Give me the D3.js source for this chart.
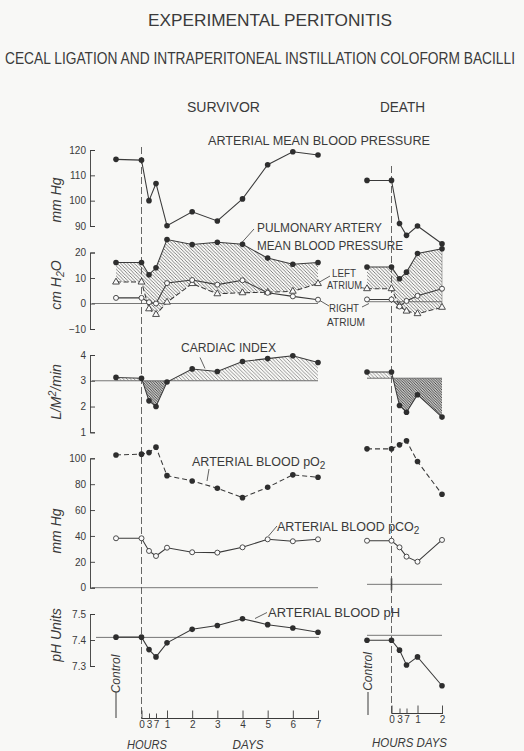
<!DOCTYPE html>
<html><head><meta charset="utf-8">
<script src="https://cdn.jsdelivr.net/npm/d3@7"></script>
<style>
html,body{margin:0;padding:0;background:#f8f8f6;}
svg{display:block;}
text{font-family:"Liberation Sans",Arial,sans-serif;fill:#3a3a3a;}
</style></head><body>
<svg id="c" width="524" height="751"></svg>
<script>
// ---------- DATA ----------
// times in hours; -24 = control
const survTimes = [-24, 0, 3, 7, 24, 48, 72, 96, 120, 144, 168];
const deathTimes = [-24, 0, 3, 7, 24, 48];
const survTickValues = [0, 3, 7, 24, 48, 72, 96, 120, 144, 168];
const survTickLabels = ["0", "3", "7", "1", "2", "3", "4", "5", "6", "7"];
const deathTickValues = [0, 3, 7, 24, 48];
const deathTickLabels = ["0", "3", "7", "1", "2"];

const bpSurv = [116.3, 116, 100, 106.8, 90.1, 95.6, 92, 100.7, 114.2, 119.3, 118];
const bpDeath = [108, 108, 91, 86.3, 90, 83];
const paSurv = [16.1, 16.1, 11.3, 14, 25.1, 23.1, 24, 23.2, 17.8, 15.4, 16.1];
const paDeath = [14.3, 14.3, 9.7, 12.3, 19.6, 21.5];
const laSurv = [8.4, 8.4, -2.1, -4.3, 0.5, 7.8, 3.8, 4.2, 4.4, 4.8, 7.8];
const laDeath = [5.8, 5.8, -1, -3, -4, -1.5];
const raSurv = [2.2, 2.2, 0.5, 0, 8, 9.2, 7.4, 9.1, 4.2, 2.8, 1.5];
const raDeath = [1.6, 1.6, -1.2, 1, 3, 5.8];
const ciSurv = [3.13, 3.1, 2.22, 2.0, 2.95, 3.46, 3.36, 3.75, 3.86, 3.97, 3.71];
const ciDeath = [3.34, 3.34, 2.04, 1.78, 2.46, 1.59];
const po2Surv = [102.6, 103.2, 104.4, 108.6, 86.6, 82.5, 76.9, 69.6, 77.6, 87.2, 85.4];
const po2Death = [107.3, 107.3, 110.4, 113.5, 97.5, 72.2];
const pco2Surv = [38.2, 38.2, 28.4, 24.5, 30.9, 27.4, 27.1, 31.2, 37.4, 35.9, 37.4];
const pco2Death = [36.3, 36.3, 31.2, 24.0, 20.1, 36.9];
const phSurv = [7.411, 7.411, 7.363, 7.335, 7.389, 7.441, 7.456, 7.482, 7.459, 7.446, 7.430];
const phDeath = [7.399, 7.399, 7.361, 7.304, 7.335, 7.224];

const bpTicks = [90, 100, 110, 120];
const cmTicks = [-10, 0, 10, 20];
const ciTicks = [1, 2, 3, 4];
const gasTicks = [0, 20, 40, 60, 80, 100];
const phTicks = [7.3, 7.4, 7.5];

// reference baselines (survivor, death)
const cmBase = [0, 0.7];
const ciBase = [3, 3.1];
const gasBase = [0, 2.6];
const phBase = [7.41, 7.418];

// ---------- SETUP ----------
const svg = d3.select("#c");
const INK = "#3a3a3a";
const defs = svg.append("defs");
function hatch(id, step, color, w) {
  const p = defs.append("pattern").attr("id", id).attr("patternUnits", "userSpaceOnUse")
    .attr("width", step).attr("height", step);
  p.append("path").attr("d", `M0,0L${step},${step}M${-step/2},${step/2}L${step/2},${step*1.5}M${step/2},${-step/2}L${step*1.5},${step/2}`)
    .attr("stroke", color).attr("stroke-width", w);
}
hatch("h1", 3.4, "#5a5a5a", 0.75);
hatch("h2", 3.6, "#6a6a6a", 0.7);
hatch("h3", 2.6, "#333", 0.9);

const xS = d3.scaleLinear().domain([-24, 0, 3, 7, 24, 168]).range([116, 141.5, 149, 156, 167, 318]);
const xD = d3.scaleLinear().domain([-24, 0, 3, 7, 24, 48]).range([367, 391.5, 399.5, 406.5, 417.5, 442]);

const yBP = d3.scaleLinear().domain([90, 120]).range([226, 150]);
const yCM = d3.scaleLinear().domain([-10, 20]).range([329, 252.5]);
const yCI = d3.scaleLinear().domain([1, 4]).range([432.3, 355]);
const yGas = d3.scaleLinear().domain([0, 100]).range([587.7, 458.3]);
const yPH = d3.scaleLinear().domain([7.3, 7.5]).range([666, 614]);

// ---------- TITLES ----------
function txt(s, x, y, size, opts = {}) {
  const t = svg.append("text").attr("x", x).attr("y", y).attr("font-size", size).text(s);
  if (opts.len) t.attr("textLength", opts.len).attr("lengthAdjust", "spacingAndGlyphs");
  if (opts.anchor) t.attr("text-anchor", opts.anchor);
  if (opts.italic) t.attr("font-style", "italic");
  return t;
}
txt("EXPERIMENTAL PERITONITIS", 148, 26, 17, {len: 244});
svg.append("text").attr("transform", "translate(5,63.5) scale(1,1.22)").attr("font-size", 12.8)
  .attr("textLength", 510).attr("lengthAdjust", "spacingAndGlyphs")
  .text("CECAL LIGATION AND INTRAPERITONEAL INSTILLATION COLOFORM BACILLI");
txt("SURVIVOR", 187, 111.5, 14, {len: 73});
txt("DEATH", 380, 111.5, 14, {len: 45});
txt("ARTERIAL MEAN BLOOD PRESSURE", 208, 145, 12.5, {len: 222});
txt("PULMONARY ARTERY", 257, 232, 12.5, {len: 125});
txt("MEAN BLOOD PRESSURE", 257, 249.5, 12.5, {len: 146});
txt("LEFT", 332, 277, 11, {len: 24});
txt("ATRIUM", 327, 289, 11, {len: 35});
txt("RIGHT", 329, 312, 11, {len: 30});
txt("ATRIUM", 327, 325.5, 11, {len: 38});
txt("CARDIAC INDEX", 181, 351.5, 12.5, {len: 95});
function subText(parts, x, y, size) {
  const t = svg.append("text").attr("x", x).attr("y", y).attr("font-size", size);
  t.append("tspan").text(parts[0]);
  t.append("tspan").attr("font-size", size * 0.8).attr("dy", 3).text(parts[1]);
  return t;
}
subText(["ARTERIAL BLOOD pO", "2"], 192, 466, 12.5);
subText(["ARTERIAL BLOOD pCO", "2"], 277, 531, 12.5);
txt("ARTERIAL BLOOD pH", 268, 616.5, 12.5, {len: 132});

// leaders
const leaders = [
  [241, 243.5, 254, 229], [330, 276, 317, 283.5], [361, 287.5, 368, 289],
  [329, 306, 319, 300], [362, 307, 369, 303.5], [200, 357.5, 205, 368.5],
  [209, 469, 207, 481], [277, 526, 268.5, 536], [267, 612.5, 255, 618.5]
];
svg.append("g").selectAll("line").data(leaders).join("line")
  .attr("x1", d => d[0]).attr("y1", d => d[1]).attr("x2", d => d[2]).attr("y2", d => d[3])
  .attr("stroke", INK).attr("stroke-width", 0.8);

// y axis titles
function rotTitle(parts, x, y, size) {
  const t = svg.append("text").attr("transform", `translate(${x},${y}) rotate(-90)`)
    .attr("text-anchor", "middle").attr("font-size", size).attr("font-style", "italic");
  parts.forEach(p => {
    const s = t.append("tspan").text(p.t);
    if (p.sub) s.attr("font-size", size * 0.75).attr("dy", 3);
    if (p.sup) s.attr("font-size", size * 0.75).attr("dy", -5);
    if (p.back) s.attr("dy", p.back);
  });
  return t;
}
rotTitle([{t: "mm Hg"}], 61, 200, 14);
rotTitle([{t: "cm H"}, {t: "2", sub: true}, {t: "O", back: -3}], 61, 285, 14);
rotTitle([{t: "L/M"}, {t: "2", sup: true}, {t: "/min", back: 5}], 61, 392, 14);
rotTitle([{t: "mm Hg"}], 61, 531, 14);
rotTitle([{t: "pH Units"}], 61, 635, 14);

// ---------- Y AXES ----------
function yAxis(scale, ticks, fmt) {
  const g = svg.append("g").attr("transform", "translate(90,0)")
    .call(d3.axisLeft(scale).tickValues(ticks).tickSize(-5).tickPadding(4).tickFormat(fmt || d3.format("d")));
  g.selectAll("path,line").attr("stroke", INK).attr("stroke-width", 0.9);
  g.selectAll("text").attr("font-size", 10).attr("fill", INK).attr("font-family", "Liberation Sans, Arial, sans-serif");
}
yAxis(yBP, bpTicks);
yAxis(yCM, cmTicks);
yAxis(yCI, ciTicks);
yAxis(yGas, gasTicks);
yAxis(yPH, phTicks, d3.format(".1f"));

// ---------- REFERENCE LINES ----------
function hline(x1, x2, y) {
  svg.append("line").attr("x1", x1).attr("x2", x2).attr("y1", y).attr("y2", y)
    .attr("stroke", "#555").attr("stroke-width", 0.8);
}
hline(92, xS(168), yCM(cmBase[0]));
hline(xD(-24), xD(48), yCM(cmBase[1]));
hline(92, xS(168), yCI(ciBase[0]));
hline(xD(-24), xD(48), yCI(ciBase[1]));
hline(92, xS(168), yGas(gasBase[0]));
hline(xD(-24), xD(48), yGas(gasBase[1]));
hline(96, xS(168) + 1, yPH(phBase[0]));
hline(xD(-24), xD(48), yPH(phBase[1]));
svg.append("line").attr("x1", xD(0)).attr("x2", xD(0)).attr("y1", yGas(gasBase[1]) - 6).attr("y2", yGas(gasBase[1]) + 6)
  .attr("stroke", "#444").attr("stroke-width", 1.6);

// ---------- HATCHED AREAS ----------
function bandArea(times, hi, lo, x, y, fill) {
  const a = d3.area().x((d, i) => x(times[i])).y0(d => y(d[1])).y1(d => y(d[0]));
  svg.append("path").datum(d3.zip(hi, lo)).attr("d", a).attr("fill", fill).attr("stroke", "none");
}
bandArea(survTimes, paSurv, laSurv, xS, yCM, "url(#h1)");
bandArea(deathTimes, paDeath, laDeath, xD, yCM, "url(#h1)");

function ciArea(times, vals, base, x, y, id) {
  const by = y(base);
  defs.append("clipPath").attr("id", id + "a").append("rect").attr("x", 0).attr("y", 0).attr("width", 524).attr("height", by);
  defs.append("clipPath").attr("id", id + "b").append("rect").attr("x", 0).attr("y", by).attr("width", 524).attr("height", 751 - by);
  const a = d3.area().x((d, i) => x(times[i])).y0(by).y1(d => y(d));
  svg.append("path").datum(vals).attr("d", a).attr("fill", "url(#h2)").attr("clip-path", `url(#${id}a)`);
  svg.append("path").datum(vals).attr("d", a).attr("fill", "url(#h3)").attr("clip-path", `url(#${id}b)`);
}
ciArea(survTimes, ciSurv, ciBase[0], xS, yCI, "cis");
ciArea(deathTimes, ciDeath, ciBase[1], xD, yCI, "cid");
svg.append("line").attr("x1", xD(48)).attr("x2", xD(48)).attr("y1", yCM(paDeath[5])).attr("y2", yCM(laDeath[5]))
  .attr("stroke", "#777").attr("stroke-width", 0.6);

// ---------- DASHED VERTICALS ----------
svg.append("line").attr("x1", xS(0)).attr("x2", xS(0)).attr("y1", 147).attr("y2", 718.5)
  .attr("stroke", "#555").attr("stroke-width", 0.9).attr("stroke-dasharray", "7,3");
svg.append("line").attr("x1", xD(0)).attr("x2", xD(0)).attr("y1", 166).attr("y2", 713.5)
  .attr("stroke", "#555").attr("stroke-width", 0.9).attr("stroke-dasharray", "7,3");

// ---------- SERIES ----------
function series(times, vals, x, y, marker, dash) {
  const line = d3.line().x((d, i) => x(times[i])).y(d => y(d));
  svg.append("path").datum(vals).attr("d", line).attr("fill", "none").attr("stroke", INK)
    .attr("stroke-width", 1.05).attr("stroke-dasharray", dash || null);
  const g = svg.append("g");
  const pts = vals.map((v, i) => [x(times[i]), y(v)]);
  if (marker === "dot") {
    g.selectAll("circle").data(pts).join("circle").attr("cx", d => d[0]).attr("cy", d => d[1])
      .attr("r", 2.8).attr("fill", "#2e2e2e");
  } else if (marker === "circle") {
    g.selectAll("circle").data(pts).join("circle").attr("cx", d => d[0]).attr("cy", d => d[1])
      .attr("r", 2.5).attr("fill", "#fbfbfb").attr("stroke", INK).attr("stroke-width", 0.9);
  } else if (marker === "tri") {
    g.selectAll("path").data(pts).join("path").attr("transform", d => `translate(${d[0]},${d[1]})`)
      .attr("d", d3.symbol(d3.symbolTriangle, 20)).attr("fill", "#fbfbfb").attr("stroke", INK).attr("stroke-width", 0.9);
  }
}
series(survTimes, bpSurv, xS, yBP, "dot");
series(deathTimes, bpDeath, xD, yBP, "dot");
series(survTimes, paSurv, xS, yCM, "dot");
series(deathTimes, paDeath, xD, yCM, "dot");
series(survTimes, laSurv, xS, yCM, "tri", "5,2.5");
series(deathTimes, laDeath, xD, yCM, "tri", "5,2.5");
series(survTimes, raSurv, xS, yCM, "circle");
series(deathTimes, raDeath, xD, yCM, "circle");
series(survTimes, ciSurv, xS, yCI, "dot");
series(deathTimes, ciDeath, xD, yCI, "dot");
series(survTimes, po2Surv, xS, yGas, "dot", "5,3");
series(deathTimes, po2Death, xD, yGas, "dot", "5,3");
series(survTimes, pco2Surv, xS, yGas, "circle");
series(deathTimes, pco2Death, xD, yGas, "circle");
series(survTimes, phSurv, xS, yPH, "dot");
series(deathTimes, phDeath, xD, yPH, "dot");

// ---------- X AXES ----------
function xAxis(x, yPos, vals, labels, endT) {
  const g = svg.append("g").attr("transform", `translate(0,${yPos})`)
    .call(d3.axisBottom(x).tickValues(vals).tickSize(-8).tickSizeOuter(0).tickPadding(2)
      .tickFormat((d, i) => labels[i]));
  g.select(".domain").attr("d", `M${x(0)},0H${x(endT) + 1}`).attr("stroke", INK).attr("stroke-width", 1);
  g.selectAll(".tick line").attr("stroke", INK).attr("stroke-width", 0.9)
    .attr("y2", d => (d > 0 && d < 24) ? -5 : -8);
  g.selectAll(".tick text").attr("font-size", 10).attr("fill", INK).attr("font-family", "Liberation Sans, Arial, sans-serif");
}
xAxis(xS, 718.5, survTickValues, survTickLabels, 168);
xAxis(xD, 713.5, deathTickValues, deathTickLabels, 48);

txt("HOURS", 147, 749, 12.5, {anchor: "middle", italic: true, len: 40});
txt("DAYS", 248, 749, 12.5, {anchor: "middle", italic: true, len: 31});
txt("HOURS DAYS", 372, 747, 12.5, {italic: true, len: 75});

// Control labels
function controlLabel(x, yMid, yLine0, yLine1) {
  svg.append("text").attr("transform", `translate(${x + 4},${yMid}) rotate(-90)`).attr("text-anchor", "middle")
    .attr("font-size", 12).attr("font-style", "italic").text("Control");
  svg.append("line").attr("x1", x).attr("x2", x).attr("y1", yLine0).attr("y2", yLine1)
    .attr("stroke", INK).attr("stroke-width", 1);
}
controlLabel(xS(-24), 674, 692, 718);
controlLabel(xD(-24) + 1, 671.5, 692, 715);
</script>
</body></html>
